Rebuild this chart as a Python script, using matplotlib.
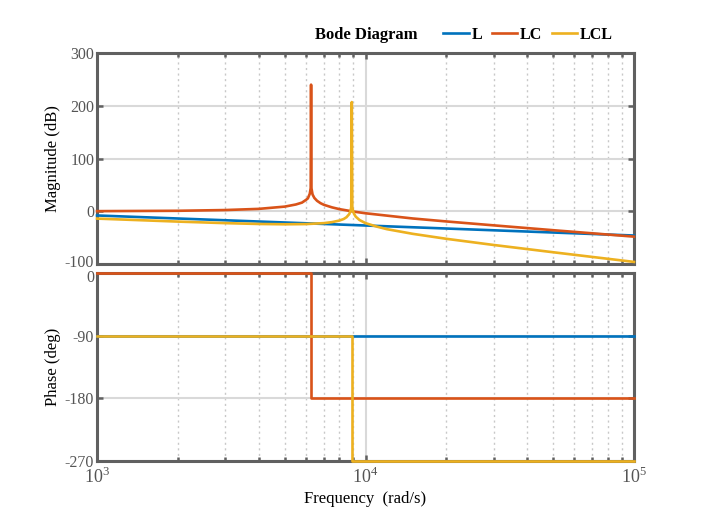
import matplotlib.pyplot as plt
import matplotlib.transforms as mtransforms
import numpy as np

plt.rcParams['font.family'] = ['Liberation Serif', 'DejaVu Serif']
plt.rcParams['mathtext.fontset'] = 'custom'
plt.rcParams['mathtext.rm'] = 'Liberation Serif'
plt.rcParams['axes.unicode_minus'] = False

# частоты (rad/s) и амплитуды (dB)
w_l = [1e3, 1e4, 1e5]
mag_l = [-8, -27, -46]

w_lc = [1e3, 2e3, 3e3, 4e3, 5e3, 5.5e3, 5.8e3, 6e3, 6.1e3, 6.2e3, 6.25e3,
        6.27e3, 6.29e3, 6.35e3, 6.45e3, 6.6e3, 6.8e3, 7e3, 7.5e3, 8e3, 9e3,
        1e4, 1.5e4, 2e4, 3e4, 5e4, 1e5]
mag_lc = [0.2, 0.9, 2.3, 4.5, 8.8, 12.8, 16.4, 21.5, 24.4, 33.1, 43.9,
          240, 43.9, 31.8, 25.2, 19.8, 15.3, 12.2, 7.4, 4.0, -0.5,
          -3.8, -13.7, -19.3, -26.7, -35.9, -48.1]

w_lcl = [1e3, 2e3, 3e3, 4e3, 5e3, 6e3, 7e3, 7.5e3, 8e3, 8.3e3, 8.5e3, 8.7e3,
         8.8e3, 8.85e3, 8.89e3, 8.93e3, 9e3, 9.1e3, 9.2e3, 9.5e3, 1e4, 1.1e4,
         1.2e4, 1.5e4, 2e4, 3e4, 5e4, 7e4, 1e5]
mag_lcl = [-13.9, -19.6, -22.5, -24.1, -24.7, -24.3, -22.5, -20.6, -17.6,
           -14.6, -11.2, -5.3, 1.0, 8.0, 207, 7.9, -1.0, -6.4, -10.3, -16.6,
           -22.5, -29.0, -33.9, -42.8, -52.2, -63.9, -77.7, -86.6, -96.0]

# фаза (deg)
ph_w_l = [1e3, 1e5]
ph_l = [-90, -90]
ph_w_lc = [1e3, 6.27e3, 6.27e3, 1e5]
ph_lc = [0, 0, -180, -180]
ph_w_lcl = [1e3, 8.89e3, 8.89e3, 1e5]
ph_lcl = [-90, -90, -270, -270]

labels = ['L', 'LC', 'LCL']
colors = ['#0072BD', '#D95319', '#EDB120']

frame_col = '#606060'
grid_col = '#d9d9d9'
tick_col = '#555555'


def style_axes(ax):
    ax.set_xscale('log')
    ax.set_xlim(1e3, 1e5)
    for s in ax.spines.values():
        s.set_color(frame_col)
        s.set_linewidth(2.2)
    ax.tick_params(which='both', direction='in', top=True, right=True,
                   color=frame_col, width=1.8, labelcolor=tick_col,
                   labelsize=11.5, pad=2)
    ax.tick_params(which='major', length=4)
    ax.tick_params(which='minor', length=3)
    ax.grid(True, which='major', color=grid_col, linewidth=1.5, linestyle='-')
    ax.grid(True, which='minor', axis='x', color='#c8c8c8', linewidth=1.0,
            linestyle=(0, (1.5, 2.5)))
    ax.set_axisbelow(True)


fig = plt.figure(figsize=(7.01, 5.19), dpi=100)
ax1 = fig.add_axes([0.1384, 0.4913, 0.766, 0.4066])
ax2 = fig.add_axes([0.1384, 0.1118, 0.766, 0.3622])

style_axes(ax1)
style_axes(ax2)

lines = []
for w, m, c, lab in zip([w_l, w_lc, w_lcl], [mag_l, mag_lc, mag_lcl], colors, labels):
    ln, = ax1.plot(w, m, color=c, linewidth=1.9, label=lab, clip_on=False, zorder=3)
    lines.append(ln)
ax1.set_ylim(-100, 300)
ax1.set_yticks([-100, 0, 100, 200, 300])
ax1.tick_params(labelbottom=False)
ax1.set_ylabel('Magnitude (dB)', fontsize=12, labelpad=3)

for w, p, c in zip([ph_w_l, ph_w_lc, ph_w_lcl], [ph_l, ph_lc, ph_lcl], colors):
    ax2.plot(w, p, color=c, linewidth=1.9, clip_on=False, zorder=3)
ax2.set_ylim(-270, 0)
ax2.set_yticks([-270, -180, -90, 0])
ax2.set_xticks([1e3, 1e4, 1e5])
ax2.set_xticklabels([r'$10^3$', r'$10^4$', r'$10^5$'])
ax2.tick_params(axis='x', which='major', labelsize=13, pad=4)
ax2.set_ylabel('Phase (deg)', fontsize=12, labelpad=3)
ax2.set_xlabel('Frequency  (rad/s)', fontsize=12, labelpad=3)

# -100 и 0 на стыке графиков слегка разводим
up = mtransforms.ScaledTranslation(0, 3 / 100, fig.dpi_scale_trans)
down = mtransforms.ScaledTranslation(0, -3 / 100, fig.dpi_scale_trans)
lab_m100 = ax1.get_yticklabels()[0]
lab_m100.set_transform(lab_m100.get_transform() + up)
lab_0 = ax2.get_yticklabels()[-1]
lab_0.set_transform(lab_0.get_transform() + down)

fig.text(366 / 701, 1 - 35 / 519, 'Bode Diagram', fontsize=12, fontweight='bold',
         ha='center', va='center')
fig.legend(handles=lines, loc='center', bbox_to_anchor=(528 / 701, 1 - 35 / 519),
           ncol=3, frameon=False, handlelength=1.6, handletextpad=0.15,
           columnspacing=0.6, prop={'weight': 'bold', 'size': 11.5})

fig.savefig('out.png', dpi=100)
